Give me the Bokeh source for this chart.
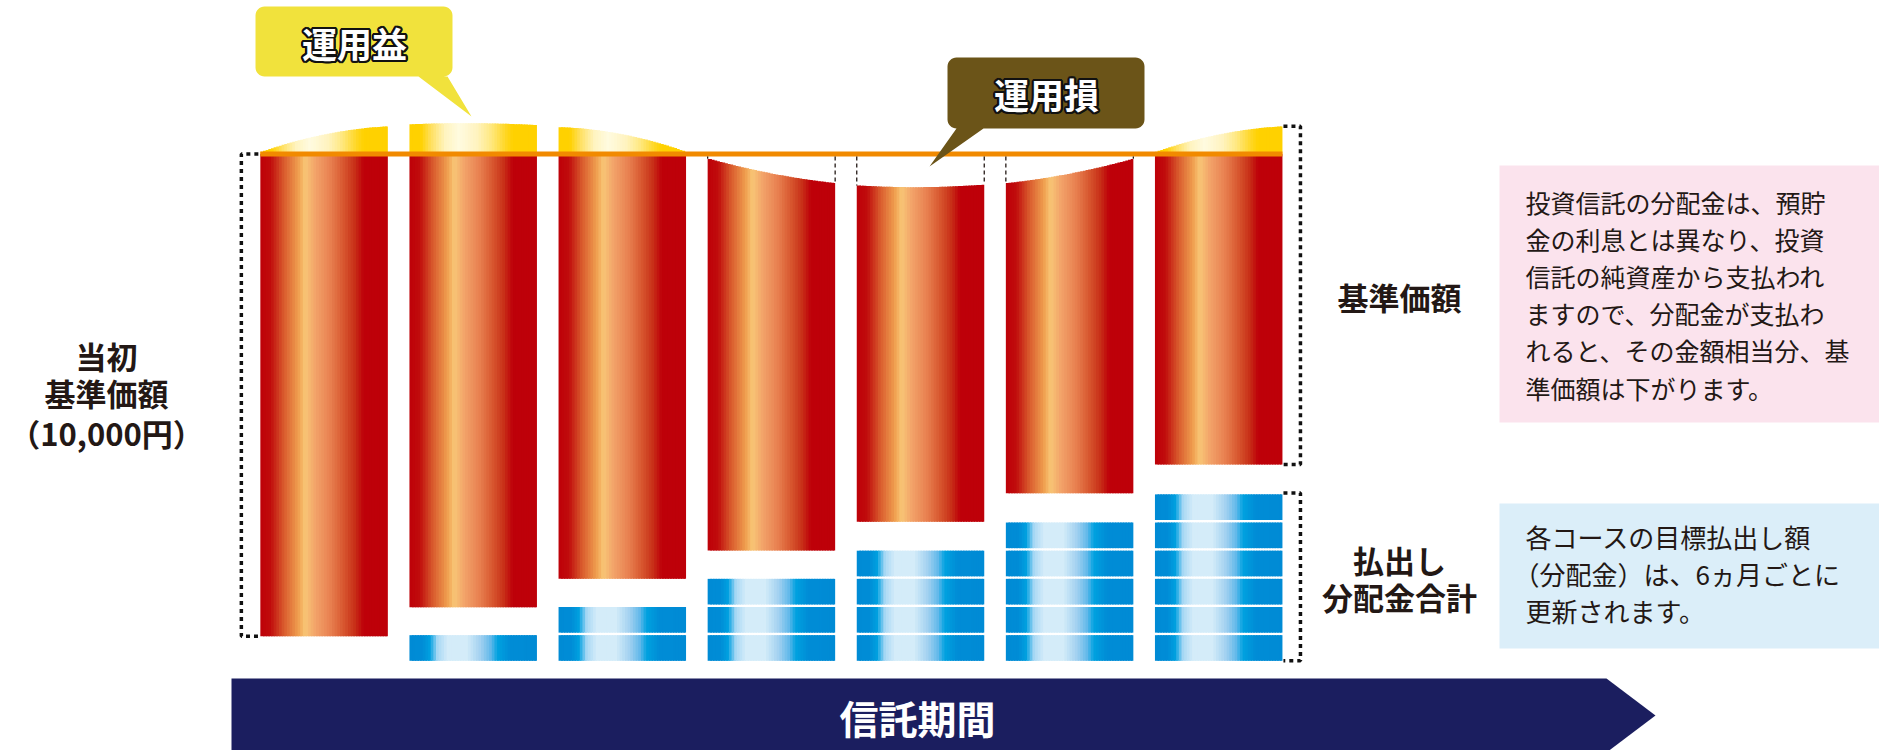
import math
from bokeh.plotting import figure
from bokeh.models import Range1d
from bokeh.core.properties import value
from bokeh.embed import file_html
from bokeh.resources import INLINE

# ---------------- data (units: one payout block) ----------------
periods = ["1", "2", "3", "4", "5", "6", "7"]
initial_nav = 18.0                      # 当初基準価額（10,000円）
payout_blocks = [0, 1, 2, 3, 4, 5, 6]   # number of paid-out distribution blocks
nav_bottom = [0.87, 1.90, 2.91, 3.92, 4.94, 5.95, 6.97]
top_change_left = [0.06, 1.05, 0.95, -0.17, -1.12, -1.04, 0.06]
top_change_mid = [0.69, 1.09, 0.69, -0.70, -1.18, -0.70, 0.69]
top_change_right = [0.98, 1.02, 0.06, -1.04, -1.09, -0.17, 0.98]

left_label = ["当初", "基準価額", "（10,000円）"]
nav_label = "基準価額"
payout_label = ["払出し", "分配金合計"]
note_nav = ["投資信託の分配金は、預貯", "金の利息とは異なり、投資", "信託の純資産から支払われ",
            "ますので、分配金が支払わ", "れると、その金額相当分、基", "準価額は下がります。"]
note_payout = ["各コースの目標払出し額", "（分配金）は、6ヵ月ごとに", "更新されます。"]
gain_label = "運用益"
loss_label = "運用損"
period_label = "信託期間"

# ---------------- layout helpers ----------------
X0PX, XPX = 323.6, 149.1
Y0PX, YPX = 660.3, 28.16
W, H = 1879, 750


def X(px):
    return (px - X0PX) / XPX


def Y(py):
    return (Y0PX - py) / YPX


FONT = value("Noto Sans CJK JP")
INK = "#231815"
BW = 127.5 / XPX
N = 48

RED = [(0.0, "#be0009"), (0.08, "#c00c0c"), (0.18, "#d8582c"), (0.30, "#f0a050"),
       (0.35, "#f8c676"), (0.44, "#f2a068"), (0.55, "#e88050"), (0.65, "#d85830"),
       (0.74, "#c83018"), (0.81, "#be0009"), (1.0, "#be0009")]
BLUE = [(0.0, "#008bd5"), (0.10, "#008cd6"), (0.16, "#00a0e0"), (0.22, "#a8d8f4"),
        (0.30, "#d4ecf9"), (0.45, "#d4ecf9"), (0.56, "#a0d0f0"), (0.64, "#60b8ea"),
        (0.69, "#00a2e0"), (0.79, "#008cd6"), (1.0, "#008bd5")]
YEL = [(0.0, "#ffd100"), (0.09, "#ffd100"), (0.17, "#ffe060"), (0.28, "#fff4c0"),
       (0.39, "#fffbe0"), (0.53, "#fff3c0"), (0.64, "#ffe880"), (0.76, "#ffd620"),
       (0.81, "#ffd100"), (1.0, "#ffd100")]


def grad(stops, t):
    for (t0, c0), (t1, c1) in zip(stops, stops[1:]):
        if t <= t1:
            f = (t - t0) / (t1 - t0) if t1 > t0 else 0.0
            a = [int(c0[k:k + 2], 16) for k in (1, 3, 5)]
            b = [int(c1[k:k + 2], 16) for k in (1, 3, 5)]
            return "#%02x%02x%02x" % tuple(round(a[m] + (b[m] - a[m]) * f) for m in range(3))
    return stops[-1][1]


def q(L, M, R, t):
    return L * (1 - t) * (1 - 2 * t) + M * 4 * t * (1 - t) + R * t * (2 * t - 1)


p = figure(width=W, height=H, output_backend="svg", toolbar_location=None,
           x_range=Range1d(X(0), X(W)), y_range=Range1d(Y(H), Y(0)),
           x_axis_type=None, y_axis_type=None, min_border=0)
p.grid.visible = False
p.outline_line_color = None
p.background_fill_color = "white"
p.border_fill_color = "white"

# ---------------- bars (gradient strips) ----------------
red = dict(l=[], r=[], b=[], t=[], c=[])
cap = dict(l=[], r=[], b=[], t=[], c=[])
blu = dict(l=[], r=[], b=[], t=[], c=[])
for i in range(len(periods)):
    xl = i - BW / 2
    gain = top_change_mid[i] > 0
    for j in range(N):
        tc = (j + 0.5) / N
        l = xl + BW * j / N
        r = xl + BW * min(1.0, (j + 1.6) / N)
        ch = q(top_change_left[i], top_change_mid[i], top_change_right[i], tc)
        red["l"].append(l); red["r"].append(r); red["b"].append(nav_bottom[i])
        red["t"].append(initial_nav if gain else initial_nav + ch)
        red["c"].append(grad(RED, tc))
        if gain:
            cap["l"].append(l); cap["r"].append(r); cap["b"].append(initial_nav)
            cap["t"].append(initial_nav + ch); cap["c"].append(grad(YEL, tc))
        for k in range(payout_blocks[i]):
            blu["l"].append(l); blu["r"].append(r); blu["b"].append(k)
            blu["t"].append(k + 0.91); blu["c"].append(grad(BLUE, tc))

for d in (red, cap, blu):
    p.quad(left=d["l"], right=d["r"], bottom=d["b"], top=d["t"], fill_color=d["c"], line_color=None)

# orange initial-NAV line
p.line(x=[-BW / 2, len(periods) - 1 + BW / 2], y=[initial_nav, initial_nav],
       line_color="#f18a00", line_width=5)

# dashed edges of the loss area
for i in range(len(periods)):
    if top_change_mid[i] < 0:
        for xe, ye in ((i - BW / 2, top_change_left[i]), (i + BW / 2, top_change_right[i])):
            p.line(x=[xe, xe], y=[initial_nav - 0.09, initial_nav + ye],
                   line_color=INK, line_width=1.3, line_dash="4 3")

# dotted brackets
DOT = dict(line_color="#111111", line_width=3.5, line_dash="4 4")
bxl = -BW / 2 - 19 / XPX
tl = -BW / 2 - 2 / XPX
p.line(x=[tl, bxl, bxl, tl], y=[initial_nav, initial_nav, nav_bottom[0], nav_bottom[0]], **DOT)
last = len(periods) - 1
bxr = last + BW / 2 + 18 / XPX
tr = last + BW / 2 + 1 / XPX
p.line(x=[tr, bxr, bxr, tr],
       y=[initial_nav + top_change_right[last]] * 2 + [nav_bottom[last]] * 2, **DOT)
p.line(x=[tr, bxr, bxr, tr], y=[payout_blocks[last] - 1 + 0.96] * 2 + [0, 0], **DOT)


# ---------------- callouts ----------------
def callout(x0, y0, x1, y1, r, tail_l, tail_r, tip):
    pts = []

    def arc(cx, cy, a0, a1):
        for s in range(9):
            a = a0 + (a1 - a0) * s / 8
            pts.append((cx + r * math.cos(a), cy + r * math.sin(a)))
    arc(x0 + r, y0 + r, math.pi, 1.5 * math.pi)
    arc(x1 - r, y0 + r, 1.5 * math.pi, 2 * math.pi)
    arc(x1 - r, y1 - r, 0, 0.5 * math.pi)
    pts += [(tail_r, y1), tip, (tail_l, y1)]
    arc(x0 + r, y1 - r, 0.5 * math.pi, math.pi)
    return [X(a) for a, _ in pts], [Y(b) for _, b in pts]


xs, ys = callout(255, 6, 452, 76, 9, 418, 447, (471, 116))
p.patch(xs, ys, fill_color="#f1e23c", line_color=None)
xs, ys = callout(947, 57, 1144, 128, 9, 956, 983, (929, 166))
p.patch(xs, ys, fill_color="#6b5418", line_color=None)


def outlined(px, py, txt, size):
    for a in range(12):
        ang = 2 * math.pi * a / 12
        p.text(x=[X(px)], y=[Y(py)], text=[txt], x_offset=2.3 * math.cos(ang),
               y_offset=2.3 * math.sin(ang), text_color="#111111", text_font=FONT,
               text_font_style="bold", text_font_size=size, text_align="center",
               text_baseline="middle")
    p.text(x=[X(px)], y=[Y(py)], text=[txt], text_color="white", text_font=FONT,
           text_font_style="bold", text_font_size=size, text_align="center",
           text_baseline="middle")


outlined(354, 42, gain_label, "35px")
outlined(1046, 93, loss_label, "35px")

# ---------------- side labels ----------------
p.text(x=[X(106)] * 3, y=[Y(355), Y(392), Y(432)], text=left_label, text_color=INK,
       text_font=FONT, text_font_style="bold", text_font_size="31px",
       text_align="center", text_baseline="middle")
p.text(x=[X(1399)], y=[Y(296)], text=[nav_label], text_color=INK, text_font=FONT,
       text_font_style="bold", text_font_size="31px", text_align="center",
       text_baseline="middle")
p.text(x=[X(1399)] * 2, y=[Y(559), Y(596)], text=payout_label, text_color=INK,
       text_font=FONT, text_font_style="bold", text_font_size="31px",
       text_align="center", text_baseline="middle")

# ---------------- note boxes ----------------
p.quad(left=X(1499), right=X(1885), top=Y(165), bottom=Y(422), fill_color="#fbe3ed", line_color=None)
p.quad(left=X(1499), right=X(1885), top=Y(503), bottom=Y(648), fill_color="#dbeef9", line_color=None)
p.text(x=[X(1525)] * len(note_nav), y=[Y(201 + 37.2 * k) for k in range(len(note_nav))],
       text=note_nav, text_color=INK, text_font=FONT, text_font_size="25px",
       text_align="left", text_baseline="middle")
note_x = [1525, 1513, 1525]
p.text(x=[X(v) for v in note_x], y=[Y(536 + 37.2 * k) for k in range(len(note_payout))],
       text=note_payout, text_color=INK, text_font=FONT, text_font_size="26px",
       text_align="left", text_baseline="middle")

# ---------------- time arrow ----------------
ax = [231, 1606, 1655, 1606, 231]
ay = [678, 678, 715, 752, 752]
p.patch([X(a) for a in ax], [Y(b) for b in ay], fill_color="#1b1e5f", line_color=None)
p.text(x=[X(917)], y=[Y(716)], text=[period_label], text_color="white", text_font=FONT,
       text_font_style="bold", text_font_size="39px", text_align="center",
       text_baseline="middle")

open("out.html", "w").write(file_html(p, INLINE))
